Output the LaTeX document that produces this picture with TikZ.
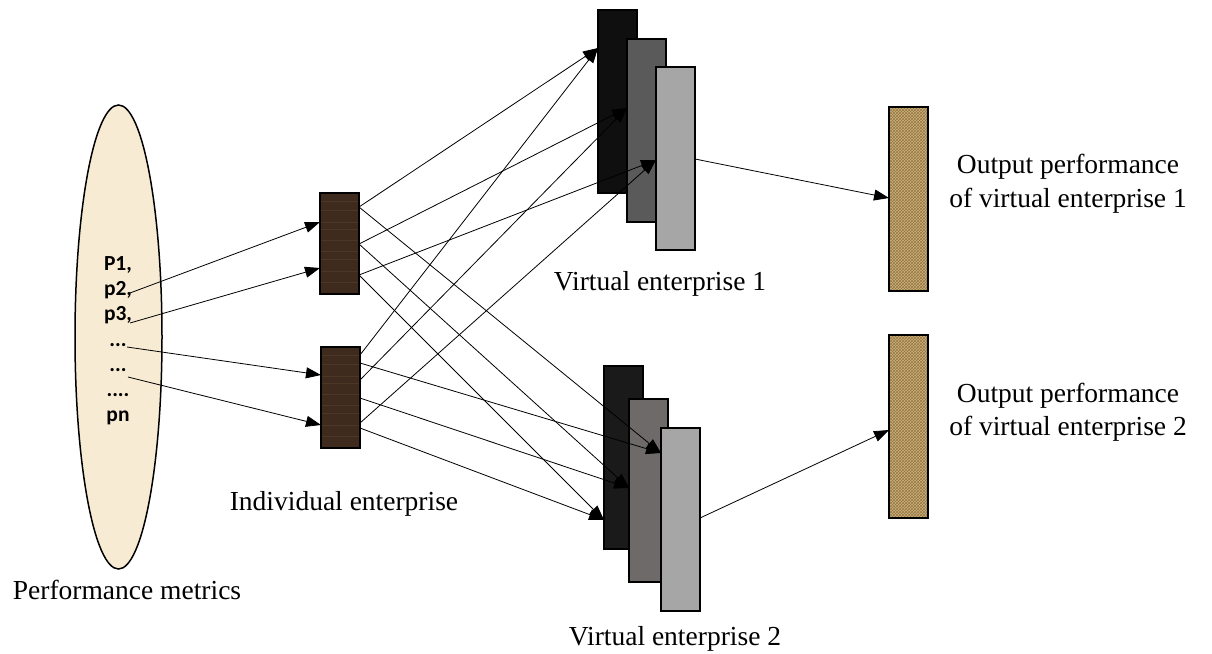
\documentclass[tikz,border=0pt]{standalone}
\usepackage{fontspec}
\setmainfont{Liberation Serif}
\newfontfamily\calib{Carlito}
\usetikzlibrary{arrows.meta,calc,patterns,shapes.geometric}
\definecolor{cream}{HTML}{F8EBD4}
\definecolor{woodc}{HTML}{3E2B1E}
\definecolor{woodl}{HTML}{4C3727}
\definecolor{burlap}{HTML}{CDB27D}
\definecolor{burlapd}{HTML}{957744}
\definecolor{veA}{HTML}{0F0F0F}
\definecolor{veB}{HTML}{5A5A5A}
\definecolor{veC}{HTML}{A6A6A6}
\definecolor{veAA}{HTML}{1A1A1A}
\definecolor{veBB}{HTML}{6F6A6A}
\begin{document}
\begin{tikzpicture}[x=1pt,y=-1pt,
  conn/.style={draw=black, line width=0.8pt, -{Triangle[length=15pt,width=11pt]}},
  box/.style={draw=black, line width=1.5pt, inner sep=0pt, outer sep=0pt, anchor=north west},
  woodbox/.style={box, fill=woodc, minimum width=39pt, minimum height=101pt,
    path picture={\foreach \f in {0.08,0.17,0.29,0.36,0.47,0.58,0.66,0.78,0.89}{
      \draw[woodl, line width=0.8pt] ($(path picture bounding box.north west)!\f!(path picture bounding box.south west)$) -- ++(45,0);}}},
  burlapbox/.style={box, fill=burlap, minimum width=39pt, minimum height=184pt,
    path picture={\fill[pattern=crosshatch, pattern color=burlapd] (path picture bounding box.south west) rectangle (path picture bounding box.north east);}},
  vebox/.style={box, minimum width=39pt, minimum height=183pt},
  lbl/.style={font=\fontsize{27.5}{34}\selectfont, inner sep=0pt, anchor=base},
  metric/.style={font=\calib\bfseries\fontsize{21.5}{25.3}\selectfont, align=center, inner sep=0pt}
]
\useasboundingbox (0,0) rectangle (1212,653);

% performance metrics ellipse
\node[ellipse, draw=black, line width=1.5pt, fill=cream, minimum width=87pt, minimum height=464pt, inner sep=0pt] (pm) at (118.5,337) {};
\node[metric, anchor=north] (ptxt) at (118,256) {P1,\\p2,\\p3,\\...\\...\\....\\pn};
\coordinate (s1) at (130,293);
\coordinate (s2) at (130,323);
\coordinate (s3) at (127,347);
\coordinate (s4) at (128,377);

% individual enterprises
\node[woodbox] (ie1) at (320,193) {};
\node[woodbox] (ie2) at (321,347) {};

% virtual enterprise 1
\node[vebox, fill=veA] (ve1a) at (598,10) {};
\node[vebox, fill=veB] (ve1b) at (627,39) {};
\node[vebox, fill=veC] (ve1c) at (656,67) {};
% virtual enterprise 2
\node[vebox, fill=veAA] (ve2a) at (604,366) {};
\node[vebox, fill=veBB] (ve2b) at (629,399) {};
\node[vebox, fill=veC] (ve2c) at (661,428) {};

% outputs
\node[burlapbox] (out1) at (889,107) {};
\node[burlapbox, minimum height=183pt] (out2) at (889,335) {};

% labels
\node[lbl] (lpm) at (127,599) {Performance metrics};
\node[lbl] (lie) at (344,510) {Individual enterprise};
\node[lbl] (lve1) at (660,290) {Virtual enterprise 1};
\node[lbl] (lve2) at (675,645) {Virtual enterprise 2};
\node[lbl] (lo1a) at (1068,173) {Output performance};
\node[lbl] (lo1b) at (1068,207) {of virtual enterprise 1};
\node[lbl] (lo2a) at (1068,402) {Output performance};
\node[lbl] (lo2b) at (1068,435) {of virtual enterprise 2};

% metrics -> individual enterprises
\draw[conn] (s1) -- ($(ie1.north west)+(0,29)$);
\draw[conn] (s2) -- ($(ie1.north west)+(0,75)$);
\draw[conn] (s3) -- ($(ie2.north west)+(0,28)$);
\draw[conn] (s4) -- ($(ie2.north west)+(0,78)$);

% ie1 -> VE1
\draw[conn] ($(ie1.north east)+(0,14)$) -- ($(ve1a.north west)+(0,38)$);
\draw[conn] ($(ie1.north east)+(0,51)$) -- ($(ve1b.north west)+(0,69)$);
\draw[conn] ($(ie1.north east)+(0,82)$) -- ($(ve1c.north west)+(0,93)$);
% ie1 -> VE2
\draw[conn] ($(ie1.north east)+(0,14)$) -- ($(ve2c.north west)+(0,25)$);
\draw[conn] ($(ie1.north east)+(0,51)$) -- ($(ve2b.north west)+(0,89)$);
\draw[conn] ($(ie1.north east)+(0,82)$) -- ($(ve2a.north west)+(0,154)$);
% ie2 -> VE1
\draw[conn] ($(ie2.north east)+(0,8)$) -- ($(ve1a.north west)+(0,38)$);
\draw[conn] ($(ie2.north east)+(0,33)$) -- ($(ve1b.north west)+(0,69)$);
\draw[conn] ($(ie2.north east)+(0,76)$) -- ($(ve1c.north west)+(0,93)$);
% ie2 -> VE2
\draw[conn] ($(ie2.north east)+(0,16)$) -- ($(ve2c.north west)+(0,25)$);
\draw[conn] ($(ie2.north east)+(0,51)$) -- ($(ve2b.north west)+(0,89)$);
\draw[conn] ($(ie2.north east)+(0,81)$) -- ($(ve2a.north west)+(0,154)$);

% VE -> outputs
\draw[conn] ($(ve1c.north east)+(0,92)$) -- ($(out1.north west)+(0,91)$);
\draw[conn] ($(ve2c.north east)+(0,90)$) -- ($(out2.north west)+(0,95)$);
\end{tikzpicture}
\end{document}
